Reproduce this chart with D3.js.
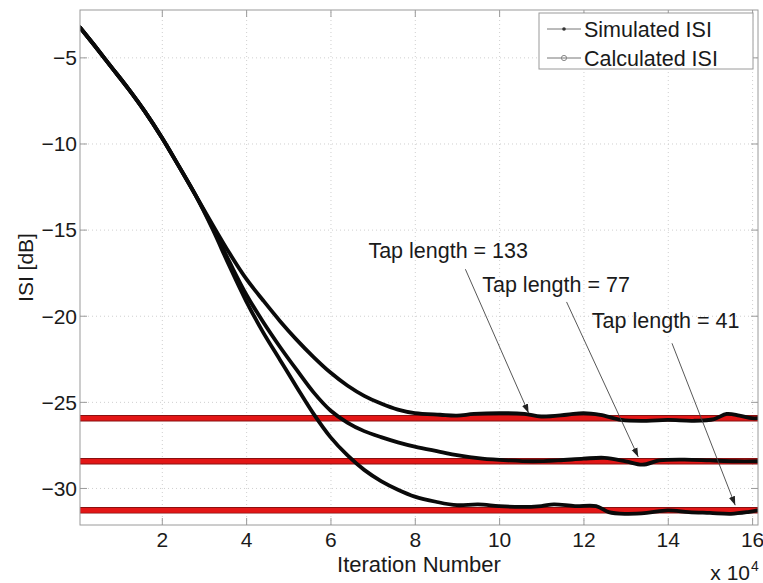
<!DOCTYPE html>
<html>
<head>
<meta charset="utf-8">
<script src="https://cdn.jsdelivr.net/npm/d3@7/dist/d3.min.js"></script>
<style>
  html, body { margin: 0; padding: 0; background: #fff; }
  svg { display: block; font-family: "Liberation Sans", Arial, sans-serif; }
</style>
</head>
<body>
<svg id="chart" width="763" height="583"></svg>
<script>
// ---------- data (x in units of 10^4 iterations, y in dB) ----------
const xTicks = [2, 4, 6, 8, 10, 12, 14, 16];
const yTicks = [-30, -25, -20, -15, -10, -5];
const xDomain = [0.06, 16.14];
const yDomain = [-32.15, -2.25];

const seriesNames = ["Simulated ISI", "Calculated ISI"];
const tapLengths = [133, 77, 41];

const sim133X = [0.06, 0.4, 0.8, 1.2, 1.6, 2.0, 2.4, 2.8, 3.2, 3.6, 4.0, 4.4, 4.8, 5.2, 5.6, 6.0, 6.4, 6.8, 7.2, 7.6, 8.0, 8.6, 9.0, 9.4, 10.0, 10.6, 11.0, 11.6, 12.0, 12.4, 12.9, 13.5, 14.0, 14.6, 15.1, 15.4, 15.7, 16.0, 16.14];
const sim133Y = [-3.26, -4.3, -5.55, -6.8, -8.15, -9.65, -11.3, -13.0, -14.7, -16.35, -17.85, -19.1, -20.3, -21.4, -22.4, -23.3, -24.05, -24.65, -25.1, -25.45, -25.65, -25.75, -25.8, -25.7, -25.65, -25.7, -25.85, -25.75, -25.65, -25.75, -26.05, -26.1, -26.05, -26.1, -26.0, -25.7, -25.8, -25.95, -25.95];

const sim77X = [0.06, 0.4, 0.8, 1.2, 1.6, 2.0, 2.4, 2.8, 3.2, 3.6, 4.0, 4.4, 4.8, 5.2, 5.6, 6.0, 6.4, 6.8, 7.2, 7.6, 8.0, 8.6, 9.0, 9.6, 10.2, 10.8, 11.4, 12.0, 12.5, 13.0, 13.4, 13.8, 14.4, 15.0, 15.6, 16.14];
const sim77Y = [-3.26, -4.3, -5.55, -6.8, -8.15, -9.65, -11.3, -13.0, -14.85, -16.85, -18.75, -20.35, -21.8, -23.15, -24.45, -25.5, -26.2, -26.7, -27.05, -27.35, -27.6, -27.9, -28.1, -28.3, -28.4, -28.45, -28.4, -28.3, -28.25, -28.45, -28.65, -28.4, -28.35, -28.4, -28.45, -28.45];

const sim41X = [0.06, 0.4, 0.8, 1.2, 1.6, 2.0, 2.4, 2.8, 3.2, 3.6, 4.0, 4.4, 4.8, 5.2, 5.6, 6.0, 6.4, 6.8, 7.2, 7.6, 8.0, 8.5, 9.0, 9.5, 10.0, 10.5, 11.0, 11.3, 11.8, 12.3, 12.6, 13.0, 13.5, 14.0, 14.5, 15.0, 15.5, 15.9, 16.14];
const sim41Y = [-3.26, -4.3, -5.55, -6.8, -8.15, -9.65, -11.3, -13.0, -14.95, -17.1, -19.15, -20.95, -22.55, -24.15, -25.7, -27.05, -28.1, -28.95, -29.6, -30.1, -30.5, -30.8, -31.0, -30.95, -31.05, -31.1, -31.05, -30.95, -31.05, -31.05, -31.4, -31.5, -31.45, -31.3, -31.4, -31.45, -31.5, -31.4, -31.3];

const calcValues = [-25.95, -28.45, -31.3];   // calculated ISI for tap lengths 133, 77, 41

// annotations: label text, label anchor (data), arrow start and tip (data)
const annotLabels = ["Tap length = 133", "Tap length = 77", "Tap length = 41"];
const annotTextX = [6.9, 9.6, 12.2];
const annotTextY = [-16.65, -18.65, -20.7];
const annotStartX = [9.2, 11.6, 14.1];
const annotStartY = [-17.3, -19.2, -21.6];
const annotTipX = [10.7, 13.3, 15.6];
const annotTipY = [-25.65, -28.2, -31.0];

// ---------- layout ----------
const W = 763, H = 583;
const M = { left: 80, right: 5, top: 10, bottom: 58 };
const iw = W - M.left - M.right, ih = H - M.top - M.bottom;

const svg = d3.select("#chart");
const g = svg.append("g").attr("transform", `translate(${M.left},${M.top})`);

const x = d3.scaleLinear().domain(xDomain).range([0, iw]);
const y = d3.scaleLinear().domain(yDomain).range([ih, 0]);

g.append("rect").attr("width", iw).attr("height", ih).attr("fill", "#fff");

// grid
const gridX = g.append("g").attr("transform", `translate(0,${ih})`)
  .call(d3.axisBottom(x).tickValues(xTicks).tickSize(-ih).tickFormat(""));
const gridY = g.append("g")
  .call(d3.axisLeft(y).tickValues(yTicks).tickSize(-iw).tickFormat(""));
[gridX, gridY].forEach(gr => {
  gr.select(".domain").remove();
  gr.selectAll("line").attr("stroke", "#cfcfcf").attr("stroke-width", 1).attr("stroke-dasharray", "1,3");
});

const defs = svg.append("defs");
defs.append("clipPath").attr("id", "clip")
  .append("rect").attr("width", iw).attr("height", ih);

const plot = g.append("g").attr("clip-path", "url(#clip)");

// calculated ISI (red, dense circle markers -> thick red band)
calcValues.forEach(v => {
  plot.append("line")
    .attr("x1", x(xDomain[0])).attr("x2", x(xDomain[1]))
    .attr("y1", y(v)).attr("y2", y(v))
    .attr("stroke", "#8a1010").attr("stroke-width", 6.5);
  plot.append("line")
    .attr("x1", x(xDomain[0])).attr("x2", x(xDomain[1]))
    .attr("y1", y(v)).attr("y2", y(v))
    .attr("stroke", "#e31616").attr("stroke-width", 4.6);
});

// simulated ISI curves (black)
const line = d3.line().x(d => x(d[0])).y(d => y(d[1])).curve(d3.curveCatmullRom.alpha(0.5));
[[sim133X, sim133Y], [sim77X, sim77Y], [sim41X, sim41Y]].forEach(([xs, ys]) => {
  plot.append("path")
    .datum(xs.map((v, i) => [v, ys[i]]))
    .attr("d", line)
    .attr("fill", "none")
    .attr("stroke", "#0a0a0a")
    .attr("stroke-width", 3.8)
    .attr("stroke-linejoin", "round")
    .attr("stroke-linecap", "round");
});

// axes (ticks inside, MATLAB style)
const axisColor = "#9a9a9a";
const xAxis = g.append("g").attr("transform", `translate(0,${ih})`)
  .call(d3.axisBottom(x).tickValues(xTicks).tickSizeInner(-7).tickSizeOuter(0).tickFormat(d3.format("d")));
const yAxis = g.append("g")
  .call(d3.axisLeft(y).tickValues(yTicks).tickSizeInner(-7).tickSizeOuter(0).tickFormat(d => "\u2212" + Math.abs(d)));
const xTop = g.append("g")
  .call(d3.axisTop(x).tickValues(xTicks).tickSizeInner(-7).tickSizeOuter(0).tickFormat(""));
const yRight = g.append("g").attr("transform", `translate(${iw},0)`)
  .call(d3.axisRight(y).tickValues(yTicks).tickSizeInner(-7).tickSizeOuter(0).tickFormat(""));
[xAxis, yAxis, xTop, yRight].forEach(a => {
  a.select(".domain").remove();
  a.selectAll("line").attr("stroke", axisColor);
});
xAxis.selectAll("text").attr("y", 22).attr("dy", 0).attr("font-size", 21).attr("fill", "#1a1a1a")
  .attr("font-family", "Liberation Sans, Arial, sans-serif");
yAxis.selectAll("text").attr("x", -3).attr("dy", "0.35em").attr("font-size", 21).attr("fill", "#1a1a1a")
  .attr("font-family", "Liberation Sans, Arial, sans-serif");

// box
g.append("rect").attr("width", iw).attr("height", ih)
  .attr("fill", "none").attr("stroke", axisColor).attr("stroke-width", 1);

// axis labels
svg.append("text").attr("x", M.left + iw / 2).attr("y", 572)
  .attr("text-anchor", "middle").attr("font-size", 22).attr("fill", "#1a1a1a")
  .text("Iteration Number");
svg.append("text")
  .attr("transform", `translate(33,${M.top + ih / 2}) rotate(-90)`)
  .attr("text-anchor", "middle").attr("font-size", 21).attr("fill", "#1a1a1a")
  .text("ISI [dB]");
svg.append("text").attr("x", 750).attr("y", 580).attr("text-anchor", "end")
  .attr("font-size", 21).attr("fill", "#1a1a1a").text("x 10");
svg.append("text").attr("x", 751).attr("y", 571).attr("font-size", 14).attr("fill", "#1a1a1a").text("4");

// annotations
defs.append("marker").attr("id", "arrow").attr("viewBox", "0 0 10 10")
  .attr("refX", 10).attr("refY", 5).attr("markerWidth", 9).attr("markerHeight", 9)
  .attr("markerUnits", "userSpaceOnUse").attr("orient", "auto")
  .append("path").attr("d", "M0,1.5 L10,5 L0,8.5 Z").attr("fill", "#222");

annotLabels.forEach((t, i) => {
  g.append("text").attr("x", x(annotTextX[i])).attr("y", y(annotTextY[i]))
    .attr("font-size", 21.5).attr("fill", "#1a1a1a").text(t);
  g.append("line")
    .attr("x1", x(annotStartX[i])).attr("y1", y(annotStartY[i]))
    .attr("x2", x(annotTipX[i])).attr("y2", y(annotTipY[i]))
    .attr("stroke", "#444").attr("stroke-width", 0.9)
    .attr("marker-end", "url(#arrow)");
});

// legend
const lg = svg.append("g").attr("transform", "translate(539,13)");
lg.append("rect").attr("width", 214).attr("height", 56).attr("fill", "#fff").attr("stroke", "#9a9a9a");
seriesNames.forEach((name, i) => {
  const cy = 16 + i * 29;
  lg.append("line").attr("x1", 8).attr("x2", 42).attr("y1", cy).attr("y2", cy)
    .attr("stroke", "#777").attr("stroke-width", 1);
  if (i === 0) {
    lg.append("circle").attr("cx", 25).attr("cy", cy).attr("r", 1.8).attr("fill", "#333");
  } else {
    lg.append("circle").attr("cx", 25).attr("cy", cy).attr("r", 2.6).attr("fill", "none")
      .attr("stroke", "#888").attr("stroke-width", 1);
  }
  lg.append("text").attr("x", 45).attr("y", cy + 7.5).attr("font-size", 21.5)
    .attr("fill", "#1a1a1a").text(name);
});
</script>
</body>
</html>
